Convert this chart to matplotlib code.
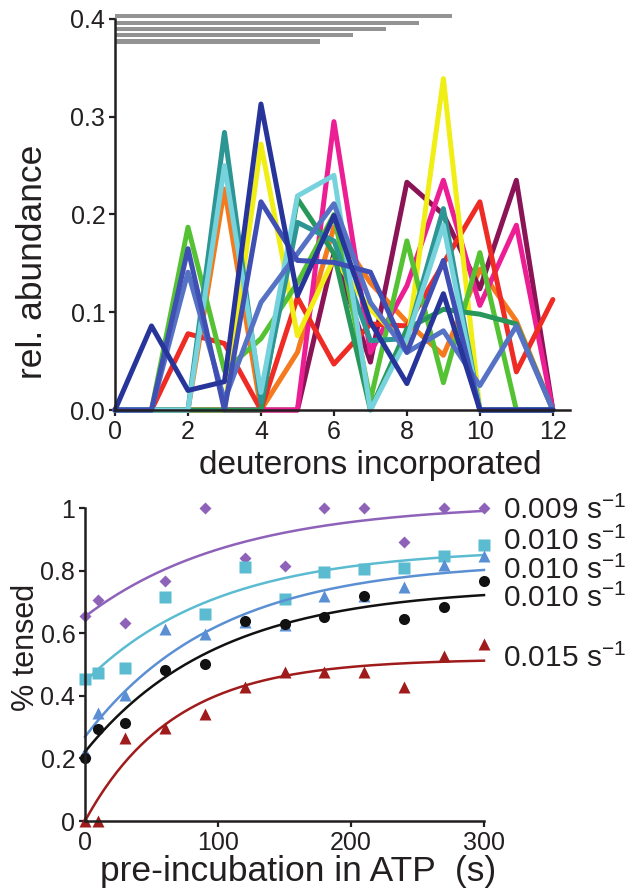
import numpy as np
import matplotlib
matplotlib.use('Agg')
import matplotlib.pyplot as plt

plt.rcParams['font.family'] = ['Liberation Sans', 'DejaVu Sans']
plt.rcParams['mathtext.fontset'] = 'custom'
plt.rcParams['mathtext.rm'] = 'Liberation Sans'
plt.rcParams['mathtext.it'] = 'Liberation Sans'
ink = '#231f20'

# --- top panel: isotope distributions ---
deuterons = np.arange(13)
yellow  = [0, 0, 0, 0, 0.272, 0.076, 0.155, 0.103, 0.066, 0.339, 0, 0, 0]
red     = [0, 0, 0.078, 0.068, 0, 0.115, 0.047, 0.088, 0.086, 0.150, 0.213, 0.039, 0.113]
lime    = [0, 0, 0.187, 0.040, 0.073, 0.130, 0.200, 0.010, 0.173, 0.028, 0.161, 0, 0]
green   = [0, 0, 0, 0, 0, 0.216, 0.160, 0, 0.083, 0.103, 0.098, 0.088, 0]
teal    = [0, 0, 0, 0.284, 0.008, 0.192, 0.173, 0.071, 0.073, 0.206, 0, 0, 0]
cyan    = [0, 0, 0, 0.250, 0.018, 0.219, 0.240, 0, 0.073, 0.189, 0, 0, 0]
orange  = [0, 0, 0, 0.226, 0, 0.059, 0.187, 0.130, 0.090, 0.056, 0.144, 0.091, 0]
magenta = [0, 0, 0, 0, 0, 0, 0.295, 0.059, 0.127, 0.235, 0.107, 0.189, 0]
maroon  = [0, 0, 0, 0, 0, 0, 0.160, 0.049, 0.233, 0.200, 0.124, 0.235, 0]
navy    = [0, 0.086, 0.020, 0.029, 0.313, 0.117, 0.199, 0.090, 0.027, 0.119, 0, 0, 0]
royal   = [0, 0, 0.165, 0, 0.213, 0.153, 0.151, 0.141, 0.059, 0.153, 0, 0, 0]
slate   = [0, 0, 0.141, 0.010, 0.110, 0.160, 0.211, 0.110, 0.059, 0.081, 0.025, 0.086, 0]

# gray bars (coverage) above the distributions
bar_len = [9.23, 8.33, 7.42, 6.52, 5.62]
bar_y = [0.403, 0.396, 0.390, 0.384, 0.377]

# --- bottom panel: % tensed vs pre-incubation time ---
t = [0, 10, 30, 60, 90, 120, 150, 180, 210, 240, 270, 300]
purple_pts = [0.655, 0.706, 0.634, 0.768, 1.0, 0.839, 0.815, 1.0, 1.0, 0.890, 1.0, 1.0]
cyan_pts   = [0.453, 0.474, 0.488, 0.715, 0.661, 0.812, 0.708, 0.796, 0.805, 0.809, 0.848, 0.882]
blue_pts   = [0.220, 0.344, 0.403, 0.612, 0.597, 0.637, 0.626, 0.719, 0.719, 0.749, 0.818, 0.847]
black_pts  = [0.200, 0.293, 0.312, 0.482, 0.502, 0.639, 0.629, 0.653, 0.719, 0.644, 0.683, 0.768]
red_pts    = [0, 0, 0.264, 0.296, 0.343, 0.428, 0.477, 0.477, 0.477, 0.429, 0.528, 0.565]

# fit parameters: start value, plateau, rate (s^-1)
fit_y0 = [0.653, 0.445, 0.269, 0.221, 0.0]
fit_top = [1.015, 0.871, 0.830, 0.748, 0.518]
fit_k = [0.009, 0.010, 0.010, 0.010, 0.015]
rate_labels = ['0.009 s$^{-1}$', '0.010 s$^{-1}$', '0.010 s$^{-1}$', '0.010 s$^{-1}$', '0.015 s$^{-1}$']

fig = plt.figure(figsize=(6.3, 8.88), dpi=100)

ax1 = fig.add_axes([115/630, 478/888, 455/630, 391/888])
series = [(orange, '#f57a1e'), (maroon, '#8b1457'), (magenta, '#ec1e94'),
          (red, '#ee2b24'), (yellow, '#f0ee14'), (lime, '#55c234'),
          (green, '#28985a'), (teal, '#2e9595'), (cyan, '#76d3dd'),
          (slate, '#5672c4'), (royal, '#3f4fb3'), (navy, '#27359a')]
for vals, c in series:
    ax1.plot(deuterons, vals, color=c, lw=3.6, solid_joinstyle='round',
             solid_capstyle='round', clip_on=False)
ax1.barh(bar_y, bar_len, height=0.0042, left=0, color='#939393', clip_on=False)
ax1.set_xlim(0, 12.47)
ax1.set_ylim(0, 0.4)
ax1.set_xticks([0, 2, 4, 6, 8, 10, 12])
ax1.set_yticks([0, 0.1, 0.2, 0.3, 0.4])
ax1.set_yticklabels(['0.0', '0.1', '0.2', '0.3', '0.4'])

ax2 = fig.add_axes([85/630, 67/888, 399/630, 313/888])
colors = ['#8e62b8', '#5bbcd1', '#5b8fd4', '#111111', '#a01b1b']
markers = ['D', 's', '^', 'o', '^']
msizes = [6, 8, 8, 8, 8]
pts = [purple_pts, cyan_pts, blue_pts, black_pts, red_pts]
tt = np.linspace(0, 300, 200)
for i in range(5):
    curve = fit_y0[i] + (fit_top[i] - fit_y0[i]) * (1 - np.exp(-fit_k[i] * tt))
    ax2.plot(tt, curve, color=colors[i], lw=1.8, clip_on=False)
    ax2.plot(t, pts[i], ls='none', marker=markers[i], ms=msizes[i],
             color=colors[i], mec='none', clip_on=False)
ax2.set_xlim(0, 300)
ax2.set_ylim(0, 1)
ax2.set_xticks([0, 100, 200, 300])
ax2.set_yticks([0, 0.2, 0.4, 0.6, 0.8, 1])
ax2.set_yticklabels(['0', '0.2', '0.4', '0.6', '0.8', '1'])

for ax in (ax1, ax2):
    for s in ('top', 'right'):
        ax.spines[s].set_visible(False)
    for s in ('left', 'bottom'):
        ax.spines[s].set_linewidth(1.8)
        ax.spines[s].set_color(ink)
    ax.tick_params(width=1.6, length=4, labelsize=18, colors=ink, pad=3)

label_y = [510.7, 541.7, 570, 598.3, 658.3]
for lab, y in zip(rate_labels, label_y):
    fig.text(503/630, 1 - y/888, lab, fontsize=21.5, color=ink, va='center', ha='left')

fig.text(33/630, 1 - 262/888, 'rel. abundance', rotation=90, fontsize=25.5,
         color=ink, ha='center', va='center')
fig.text(370/630, 1 - 465/888, 'deuterons incorporated', fontsize=24,
         color=ink, ha='center', va='center')
fig.text(26/630, 1 - 647/888, '% tensed', rotation=90, fontsize=22,
         color=ink, ha='center', va='center')
fig.text(298/630, 1 - 871/888, 'pre-incubation in ATP  (s)', fontsize=25.5,
         color=ink, ha='center', va='center')

fig.savefig('out.png', dpi=100)
